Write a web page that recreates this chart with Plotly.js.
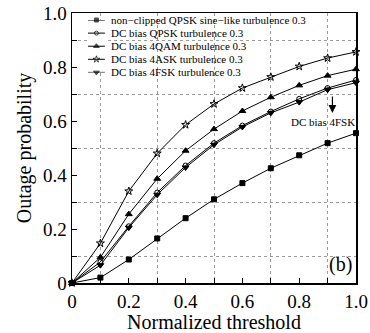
<!DOCTYPE html>
<html>
<head>
<meta charset="utf-8">
<script src="https://cdn.plot.ly/plotly-3.0.1.min.js"></script>
<style>html,body{margin:0;padding:0;background:#fff;}#chart{width:370px;height:333px;}</style>
</head>
<body>
<div id="chart"></div>
<script>
// ---- data ----
var thresholds = [0, 0.1, 0.2, 0.3, 0.4, 0.5, 0.6, 0.7, 0.8, 0.9, 1.0];
var nonClippedQPSK = [0, 0.02, 0.087, 0.165, 0.24, 0.31, 0.37, 0.425, 0.473, 0.518, 0.555];
var dcQPSK = [0, 0.078, 0.21, 0.335, 0.435, 0.518, 0.583, 0.635, 0.682, 0.722, 0.752];
var dc4QAM = [0, 0.095, 0.255, 0.386, 0.49, 0.57, 0.637, 0.688, 0.732, 0.768, 0.792];
var dc4ASK = [0, 0.147, 0.34, 0.48, 0.586, 0.663, 0.722, 0.763, 0.802, 0.833, 0.856];
var dc4FSK = [0, 0.066, 0.205, 0.327, 0.428, 0.512, 0.578, 0.63, 0.67, 0.716, 0.742];
var seriesNames = [
  'non\u2212clipped QPSK sine\u2212like turbulence 0.3',
  'DC bias QPSK turbulence 0.3',
  'DC bias 4QAM turbulence 0.3',
  'DC bias 4ASK turbulence 0.3',
  'DC bias 4FSK turbulence 0.3'
];
var tickVals = [0, 0.1, 0.2, 0.3, 0.4, 0.5, 0.6, 0.7, 0.8, 0.9, 1.0];
var xTickText = ['0', '', '0.2', '', '0.4', '', '0.6', '', '0.8', '', '1.0'];
var yTickText = ['0', '', '0.2', '', '0.4', '', '0.6', '', '0.8', '', '1.0'];
var gridVals = [0.1, 0.3, 0.5, 0.7, 0.9];
var legendRows = [0, 1, 2, 3, 4];
var legendSampleX = [0, 0.5, 1];

// ---- styles ----
var serif = "'Liberation Serif', 'Times New Roman', Times, serif";
var symbols = ['square', 'circle-open', 'triangle-up', 'star-open', 'triangle-down'];
var sizes = [5, 5, 6, 6, 6];
var seriesData = [nonClippedQPSK, dcQPSK, dc4QAM, dc4ASK, dc4FSK];

var traces = [];
seriesData.forEach(function (ys, i) {
  traces.push({
    x: thresholds, y: ys, type: 'scatter', mode: 'lines+markers',
    name: seriesNames[i], showlegend: false, cliponaxis: false,
    line: {color: '#000', width: 1},
    marker: {symbol: symbols[i], size: sizes[i], color: '#000', line: {color: '#000', width: 1}},
    xaxis: 'x', yaxis: 'y'
  });
});
// custom legend samples (line with marker in the middle)
legendRows.forEach(function (r, i) {
  traces.push({
    x: legendSampleX, y: [r, r, r], type: 'scatter', mode: 'lines+markers',
    showlegend: false, cliponaxis: false, hoverinfo: 'skip',
    line: {color: '#000', width: 1},
    marker: {symbol: symbols[i], size: [0, sizes[i] - 1, 0], color: '#000', line: {color: '#000', width: 1}},
    xaxis: 'x3', yaxis: 'y3'
  });
});
// invisible trace to anchor grid axes
traces.push({x: [0], y: [0], type: 'scatter', mode: 'markers', marker: {opacity: 0}, showlegend: false, hoverinfo: 'skip', xaxis: 'x2', yaxis: 'y2'});

var annotations = legendRows.map(function (r, i) {
  return {xref: 'x3', yref: 'y3', x: 1, y: r, xanchor: 'left', yanchor: 'middle', xshift: 4,
    text: seriesNames[i], showarrow: false, font: {family: serif, size: 11, color: '#000'}};
});
annotations.push({xref: 'x', yref: 'y', x: 0.917, y: 0.63, ax: 0, ay: -25, text: ' ',
  showarrow: true, arrowhead: 2, arrowsize: 1.3, arrowwidth: 1.2, arrowcolor: '#000'});
annotations.push({xref: 'x', yref: 'y', x: 0.883, y: 0.595, text: 'DC bias 4FSK', showarrow: false,
  xanchor: 'center', yanchor: 'middle', font: {family: serif, size: 11, color: '#000'}});
annotations.push({xref: 'x', yref: 'y', x: 0.944, y: 0.067, text: '(b)', showarrow: false,
  xanchor: 'center', yanchor: 'middle', font: {family: serif, size: 20, color: '#000'}});

var layout = {
  width: 370, height: 333,
  margin: {l: 72, r: 14, t: 13, b: 50, pad: 0},
  paper_bgcolor: '#fff', plot_bgcolor: '#fff',
  showlegend: false,
  font: {family: serif, color: '#000'},
  xaxis: {
    range: [0, 1], tickvals: tickVals, ticktext: xTickText,
    ticks: 'inside', ticklen: 5, tickwidth: 1, tickcolor: '#000', ticklabelstandoff: 1,
    showgrid: false, zeroline: false, showline: true, linecolor: '#000', linewidth: 1.5, mirror: true,
    tickfont: {family: serif, size: 19, color: '#000'},
    title: {text: 'Normalized threshold', font: {family: serif, size: 20, color: '#000'}, standoff: 1}
  },
  yaxis: {
    range: [0, 1], tickvals: tickVals, ticktext: yTickText,
    ticks: 'inside', ticklen: 5, tickwidth: 1, tickcolor: '#000',
    showgrid: false, zeroline: false, showline: true, linecolor: '#000', linewidth: 1.5, mirror: true,
    tickfont: {family: serif, size: 19, color: '#000'},
    title: {text: 'Outage probability', font: {family: serif, size: 20, color: '#000'}, standoff: 6}
  },
  xaxis2: {overlaying: 'x', anchor: 'y2', range: [0, 1], tickvals: gridVals, showticklabels: false, ticks: '',
    showgrid: true, gridcolor: '#9a9a9a', griddash: 'dot', gridwidth: 1, zeroline: false, showline: false},
  yaxis2: {overlaying: 'y', anchor: 'x2', range: [0, 1], tickvals: gridVals, showticklabels: false, ticks: '',
    showgrid: true, gridcolor: '#9a9a9a', griddash: 'dot', gridwidth: 1, zeroline: false, showline: false},
  xaxis3: {domain: [0.056, 0.116], anchor: 'y3', range: [0, 1], visible: false, fixedrange: true},
  yaxis3: {domain: [0.780, 0.974], anchor: 'x3', range: [4, 0], visible: false, fixedrange: true},
  annotations: annotations
};

Plotly.newPlot('chart', traces, layout, {staticPlot: true, displayModeBar: false});
</script>
</body>
</html>
